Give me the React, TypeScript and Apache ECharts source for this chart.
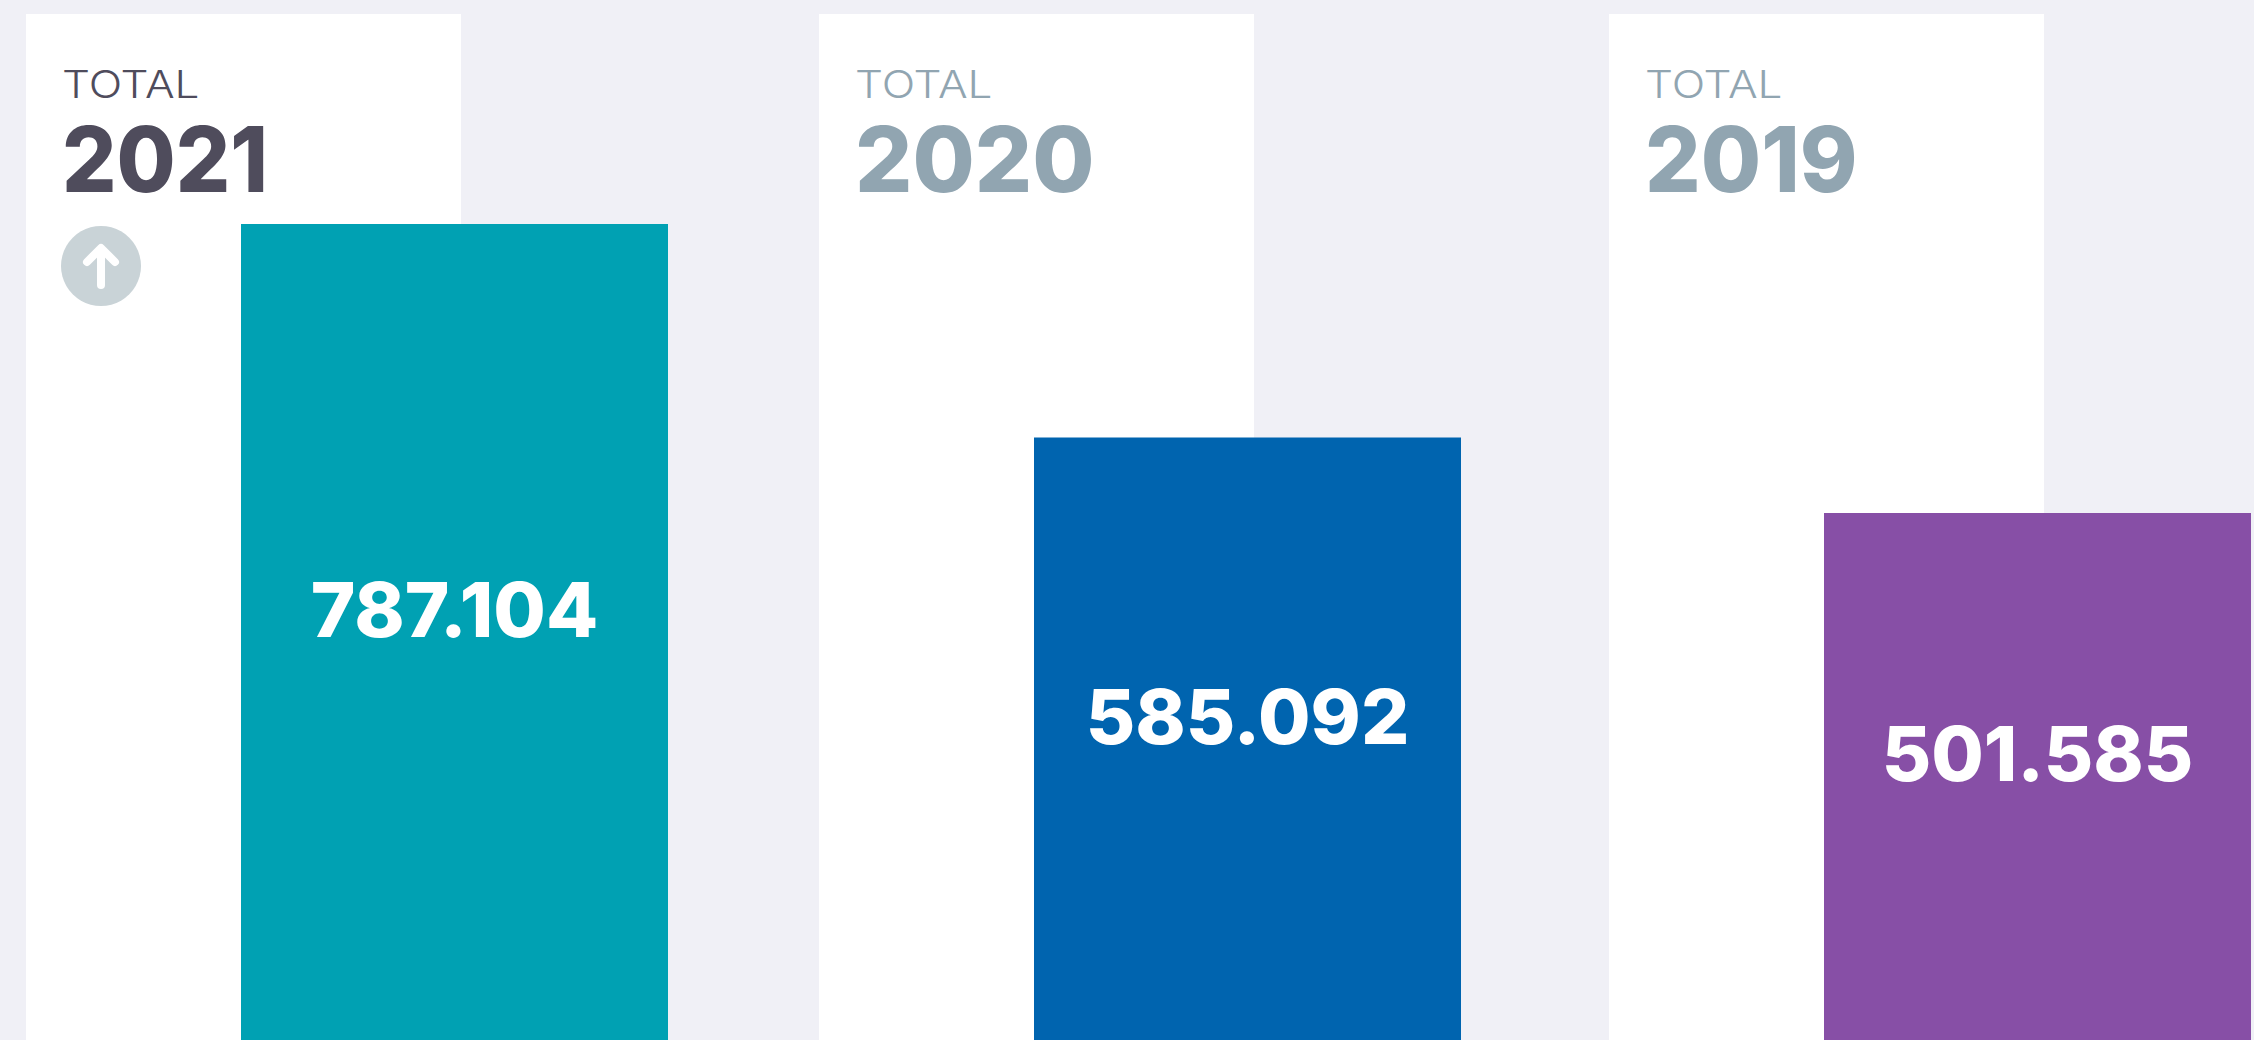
import React, { useEffect, useRef } from "react";
import * as echarts from "echarts";

const years = ["2021", "2020", "2019"];
const totals = [787104, 585092, 501585];
const axisMaxes = [989670, 996500, 976520];
const barColors = ["#00A1B3", "#0064AF", "#874FA6"];
const headingColors = ["#4F4C5C", "#91A5B1", "#91A5B1"];
const heading = "TOTAL";
const cardLefts = [26, 819, 1609];
const barLefts = [241, 1034, 1824];
const yearStretch = [0.94, 0.99, 0.96];
const FONT = "Inter";

const formatTotal = (v: number) => String(v).replace(/\B(?=(\d{3})(?!\d))/g, ".");

export default function App() {
  const ref = useRef<HTMLDivElement>(null);
  useEffect(() => {
    document.body.style.margin = "0";
    const chart = echarts.init(ref.current!, undefined, { renderer: "svg" });
    const graphic: any[] = [];
    years.forEach((y, i) => {
      graphic.push({
        type: "rect", z: 0,
        shape: { x: cardLefts[i], y: 14, width: 435, height: 1026 },
        style: { fill: "#FFFFFF" },
      });
      graphic.push({
        type: "text", z: 1, x: cardLefts[i] + 36, y: 84, scaleX: 1.16,
        style: { text: heading, fill: headingColors[i], font: `300 38px ${FONT}`, align: "left", verticalAlign: "middle" },
      });
      graphic.push({
        type: "text", z: 1, x: cardLefts[i] + 36, y: 159, scaleX: yearStretch[i],
        style: { text: y, fill: headingColors[i], font: `800 91px ${FONT}`, align: "left", verticalAlign: "middle" },
      });
    });
    graphic.push({ type: "circle", z: 1, shape: { cx: 101, cy: 266, r: 40 }, style: { fill: "#C9D3D7" } });
    graphic.push({
      type: "line", z: 2, shape: { x1: 101, y1: 250, x2: 101, y2: 285 },
      style: { stroke: "#FFFFFF", lineWidth: 8, lineCap: "round" },
    });
    graphic.push({
      type: "polyline", z: 2, shape: { points: [[87, 262], [101, 248], [115, 262]] },
      style: { stroke: "#FFFFFF", lineWidth: 8, lineCap: "round", lineJoin: "round", fill: "none" },
    });

    chart.setOption({
      animation: false,
      backgroundColor: "#F0F0F6",
      graphic,
      grid: years.map((_, i) => ({ left: barLefts[i], width: 427, top: 14, height: 1026 })),
      xAxis: years.map((y, i) => ({ type: "category", gridIndex: i, data: [y], show: false })),
      yAxis: years.map((_, i) => ({ type: "value", gridIndex: i, min: 0, max: axisMaxes[i], show: false })),
      series: years.map((y, i) => ({
        type: "bar",
        name: y,
        xAxisIndex: i,
        yAxisIndex: i,
        barWidth: "100%",
        data: [totals[i]],
        itemStyle: { color: barColors[i] },
        label: {
          show: true,
          position: "inside",
          offset: [0, -23],
          color: "#FFFFFF",
          fontFamily: FONT,
          fontWeight: 800,
          fontSize: 76,
          formatter: (p: any) => formatTotal(p.value),
        },
      })),
    });
    return () => chart.dispose();
  }, []);
  return <div ref={ref} style={{ width: 2254, height: 1040 }} />;
}
